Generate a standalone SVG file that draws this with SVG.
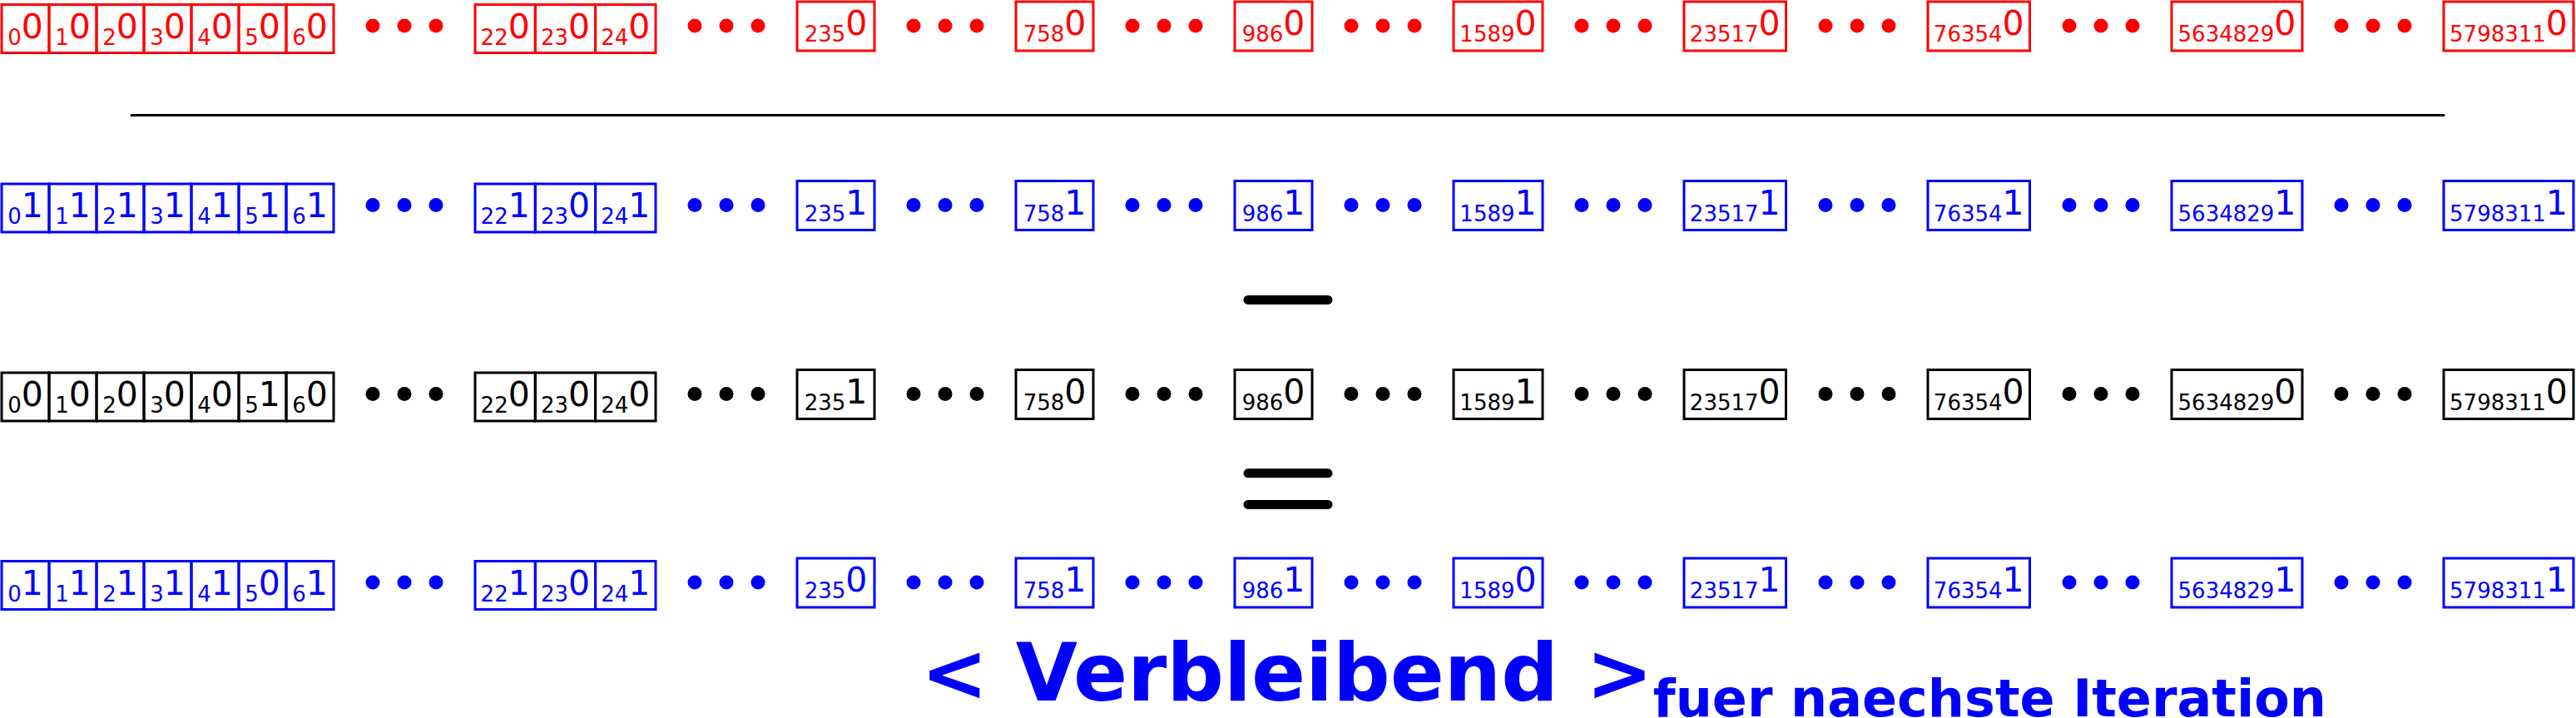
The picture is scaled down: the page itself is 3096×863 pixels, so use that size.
<svg xmlns="http://www.w3.org/2000/svg" xmlns:xlink="http://www.w3.org/1999/xlink" width="3096" height="863" viewBox="0 0 3096 863">
<style>
rect{fill:none;stroke-width:3}
text{font-family:"DejaVu Sans","Liberation Sans",sans-serif;text-anchor:middle}
.s{font-size:26px}
.m{font-size:41px}
.red rect{stroke:#f00}
.red text{fill:#f00}
.blue rect{stroke:#00f}
.blue text{fill:#00f}
.black rect{stroke:#000}
.black text{fill:#000}
.sep{stroke:#000;stroke-linecap:round;fill:none}
.title{font-family:"DejaVu Sans","Liberation Sans",sans-serif;font-weight:bold;fill:#00f;text-anchor:start}
</style>
<defs>
<g id="dots">
<circle cx="448" cy="0" r="8.5"/><circle cx="486" cy="0" r="8.5"/><circle cx="524" cy="0" r="8.5"/>
<circle cx="835" cy="0" r="8.5"/><circle cx="873" cy="0" r="8.5"/><circle cx="911" cy="0" r="8.5"/>
<circle cx="1098" cy="0" r="8.5"/><circle cx="1136" cy="0" r="8.5"/><circle cx="1174" cy="0" r="8.5"/>
<circle cx="1361" cy="0" r="8.5"/><circle cx="1399" cy="0" r="8.5"/><circle cx="1437" cy="0" r="8.5"/>
<circle cx="1624" cy="0" r="8.5"/><circle cx="1662" cy="0" r="8.5"/><circle cx="1700" cy="0" r="8.5"/>
<circle cx="1901" cy="0" r="8.5"/><circle cx="1939" cy="0" r="8.5"/><circle cx="1977" cy="0" r="8.5"/>
<circle cx="2194" cy="0" r="8.5"/><circle cx="2232" cy="0" r="8.5"/><circle cx="2270" cy="0" r="8.5"/>
<circle cx="2487" cy="0" r="8.5"/><circle cx="2525" cy="0" r="8.5"/><circle cx="2563" cy="0" r="8.5"/>
<circle cx="2814" cy="0" r="8.5"/><circle cx="2852" cy="0" r="8.5"/><circle cx="2890" cy="0" r="8.5"/>
</g>
</defs>

<!-- Row 1 (red) -->
<g id="row1" class="red">
<g id="r1-0"><rect x="2" y="5.5" width="57" height="58"/><text x="30.5" y="45.5"><tspan class="s" dy="8">0</tspan><tspan class="m" dy="-8">0</tspan></text></g>
<g id="r1-1"><rect x="59" y="5.5" width="57" height="58"/><text x="87.5" y="45.5"><tspan class="s" dy="8">1</tspan><tspan class="m" dy="-8">0</tspan></text></g>
<g id="r1-2"><rect x="116" y="5.5" width="57" height="58"/><text x="144.5" y="45.5"><tspan class="s" dy="8">2</tspan><tspan class="m" dy="-8">0</tspan></text></g>
<g id="r1-3"><rect x="173" y="5.5" width="57" height="58"/><text x="201.5" y="45.5"><tspan class="s" dy="8">3</tspan><tspan class="m" dy="-8">0</tspan></text></g>
<g id="r1-4"><rect x="230" y="5.5" width="57" height="58"/><text x="258.5" y="45.5"><tspan class="s" dy="8">4</tspan><tspan class="m" dy="-8">0</tspan></text></g>
<g id="r1-5"><rect x="287" y="5.5" width="57" height="58"/><text x="315.5" y="45.5"><tspan class="s" dy="8">5</tspan><tspan class="m" dy="-8">0</tspan></text></g>
<g id="r1-6"><rect x="344" y="5.5" width="57" height="58"/><text x="372.5" y="45.5"><tspan class="s" dy="8">6</tspan><tspan class="m" dy="-8">0</tspan></text></g>
<g id="r1-22"><rect x="571" y="5.5" width="72.3" height="58"/><text x="607.2" y="45.5"><tspan class="s" dy="8">22</tspan><tspan class="m" dy="-8">0</tspan></text></g>
<g id="r1-23"><rect x="643.3" y="5.5" width="72.3" height="58"/><text x="679.5" y="45.5"><tspan class="s" dy="8">23</tspan><tspan class="m" dy="-8">0</tspan></text></g>
<g id="r1-24"><rect x="715.6" y="5.5" width="72.4" height="58"/><text x="751.8" y="45.5"><tspan class="s" dy="8">24</tspan><tspan class="m" dy="-8">0</tspan></text></g>
<g id="r1-235"><rect x="958" y="2" width="93" height="59"/><text x="1004.5" y="42"><tspan class="s" dy="8">235</tspan><tspan class="m" dy="-8">0</tspan></text></g>
<g id="r1-758"><rect x="1221" y="2" width="93" height="59"/><text x="1267.5" y="42"><tspan class="s" dy="8">758</tspan><tspan class="m" dy="-8">0</tspan></text></g>
<g id="r1-986"><rect x="1484" y="2" width="93" height="59"/><text x="1530.5" y="42"><tspan class="s" dy="8">986</tspan><tspan class="m" dy="-8">0</tspan></text></g>
<g id="r1-1589"><rect x="1747" y="2" width="107" height="59"/><text x="1800.5" y="42"><tspan class="s" dy="8">1589</tspan><tspan class="m" dy="-8">0</tspan></text></g>
<g id="r1-23517"><rect x="2024" y="2" width="122.5" height="59"/><text x="2085.25" y="42"><tspan class="s" dy="8">23517</tspan><tspan class="m" dy="-8">0</tspan></text></g>
<g id="r1-76354"><rect x="2317" y="2" width="122.5" height="59"/><text x="2378.25" y="42"><tspan class="s" dy="8">76354</tspan><tspan class="m" dy="-8">0</tspan></text></g>
<g id="r1-5634829"><rect x="2610" y="2" width="157" height="59"/><text x="2688.5" y="42"><tspan class="s" dy="8">5634829</tspan><tspan class="m" dy="-8">0</tspan></text></g>
<g id="r1-5798311"><rect x="2937" y="2" width="156" height="59"/><text x="3015" y="42"><tspan class="s" dy="8">5798311</tspan><tspan class="m" dy="-8">0</tspan></text></g>
<use xlink:href="#dots" href="#dots" y="31" fill="#f00"/>
</g>

<!-- Row 2 (blue) -->
<g id="row2" class="blue">
<g id="r2-0"><rect x="2" y="221" width="57" height="58"/><text x="30.5" y="261"><tspan class="s" dy="8">0</tspan><tspan class="m" dy="-8">1</tspan></text></g>
<g id="r2-1"><rect x="59" y="221" width="57" height="58"/><text x="87.5" y="261"><tspan class="s" dy="8">1</tspan><tspan class="m" dy="-8">1</tspan></text></g>
<g id="r2-2"><rect x="116" y="221" width="57" height="58"/><text x="144.5" y="261"><tspan class="s" dy="8">2</tspan><tspan class="m" dy="-8">1</tspan></text></g>
<g id="r2-3"><rect x="173" y="221" width="57" height="58"/><text x="201.5" y="261"><tspan class="s" dy="8">3</tspan><tspan class="m" dy="-8">1</tspan></text></g>
<g id="r2-4"><rect x="230" y="221" width="57" height="58"/><text x="258.5" y="261"><tspan class="s" dy="8">4</tspan><tspan class="m" dy="-8">1</tspan></text></g>
<g id="r2-5"><rect x="287" y="221" width="57" height="58"/><text x="315.5" y="261"><tspan class="s" dy="8">5</tspan><tspan class="m" dy="-8">1</tspan></text></g>
<g id="r2-6"><rect x="344" y="221" width="57" height="58"/><text x="372.5" y="261"><tspan class="s" dy="8">6</tspan><tspan class="m" dy="-8">1</tspan></text></g>
<g id="r2-22"><rect x="571" y="221" width="72.3" height="58"/><text x="607.2" y="261"><tspan class="s" dy="8">22</tspan><tspan class="m" dy="-8">1</tspan></text></g>
<g id="r2-23"><rect x="643.3" y="221" width="72.3" height="58"/><text x="679.5" y="261"><tspan class="s" dy="8">23</tspan><tspan class="m" dy="-8">0</tspan></text></g>
<g id="r2-24"><rect x="715.6" y="221" width="72.4" height="58"/><text x="751.8" y="261"><tspan class="s" dy="8">24</tspan><tspan class="m" dy="-8">1</tspan></text></g>
<g id="r2-235"><rect x="958" y="217.5" width="93" height="59"/><text x="1004.5" y="257.5"><tspan class="s" dy="8">235</tspan><tspan class="m" dy="-8">1</tspan></text></g>
<g id="r2-758"><rect x="1221" y="217.5" width="93" height="59"/><text x="1267.5" y="257.5"><tspan class="s" dy="8">758</tspan><tspan class="m" dy="-8">1</tspan></text></g>
<g id="r2-986"><rect x="1484" y="217.5" width="93" height="59"/><text x="1530.5" y="257.5"><tspan class="s" dy="8">986</tspan><tspan class="m" dy="-8">1</tspan></text></g>
<g id="r2-1589"><rect x="1747" y="217.5" width="107" height="59"/><text x="1800.5" y="257.5"><tspan class="s" dy="8">1589</tspan><tspan class="m" dy="-8">1</tspan></text></g>
<g id="r2-23517"><rect x="2024" y="217.5" width="122.5" height="59"/><text x="2085.25" y="257.5"><tspan class="s" dy="8">23517</tspan><tspan class="m" dy="-8">1</tspan></text></g>
<g id="r2-76354"><rect x="2317" y="217.5" width="122.5" height="59"/><text x="2378.25" y="257.5"><tspan class="s" dy="8">76354</tspan><tspan class="m" dy="-8">1</tspan></text></g>
<g id="r2-5634829"><rect x="2610" y="217.5" width="157" height="59"/><text x="2688.5" y="257.5"><tspan class="s" dy="8">5634829</tspan><tspan class="m" dy="-8">1</tspan></text></g>
<g id="r2-5798311"><rect x="2937" y="217.5" width="156" height="59"/><text x="3015" y="257.5"><tspan class="s" dy="8">5798311</tspan><tspan class="m" dy="-8">1</tspan></text></g>
<use xlink:href="#dots" href="#dots" y="246.5" fill="#00f"/>
</g>

<!-- Row 3 (black) -->
<g id="row3" class="black">
<g id="r3-0"><rect x="2" y="448" width="57" height="58"/><text x="30.5" y="488"><tspan class="s" dy="8">0</tspan><tspan class="m" dy="-8">0</tspan></text></g>
<g id="r3-1"><rect x="59" y="448" width="57" height="58"/><text x="87.5" y="488"><tspan class="s" dy="8">1</tspan><tspan class="m" dy="-8">0</tspan></text></g>
<g id="r3-2"><rect x="116" y="448" width="57" height="58"/><text x="144.5" y="488"><tspan class="s" dy="8">2</tspan><tspan class="m" dy="-8">0</tspan></text></g>
<g id="r3-3"><rect x="173" y="448" width="57" height="58"/><text x="201.5" y="488"><tspan class="s" dy="8">3</tspan><tspan class="m" dy="-8">0</tspan></text></g>
<g id="r3-4"><rect x="230" y="448" width="57" height="58"/><text x="258.5" y="488"><tspan class="s" dy="8">4</tspan><tspan class="m" dy="-8">0</tspan></text></g>
<g id="r3-5"><rect x="287" y="448" width="57" height="58"/><text x="315.5" y="488"><tspan class="s" dy="8">5</tspan><tspan class="m" dy="-8">1</tspan></text></g>
<g id="r3-6"><rect x="344" y="448" width="57" height="58"/><text x="372.5" y="488"><tspan class="s" dy="8">6</tspan><tspan class="m" dy="-8">0</tspan></text></g>
<g id="r3-22"><rect x="571" y="448" width="72.3" height="58"/><text x="607.2" y="488"><tspan class="s" dy="8">22</tspan><tspan class="m" dy="-8">0</tspan></text></g>
<g id="r3-23"><rect x="643.3" y="448" width="72.3" height="58"/><text x="679.5" y="488"><tspan class="s" dy="8">23</tspan><tspan class="m" dy="-8">0</tspan></text></g>
<g id="r3-24"><rect x="715.6" y="448" width="72.4" height="58"/><text x="751.8" y="488"><tspan class="s" dy="8">24</tspan><tspan class="m" dy="-8">0</tspan></text></g>
<g id="r3-235"><rect x="958" y="444.5" width="93" height="59"/><text x="1004.5" y="484.5"><tspan class="s" dy="8">235</tspan><tspan class="m" dy="-8">1</tspan></text></g>
<g id="r3-758"><rect x="1221" y="444.5" width="93" height="59"/><text x="1267.5" y="484.5"><tspan class="s" dy="8">758</tspan><tspan class="m" dy="-8">0</tspan></text></g>
<g id="r3-986"><rect x="1484" y="444.5" width="93" height="59"/><text x="1530.5" y="484.5"><tspan class="s" dy="8">986</tspan><tspan class="m" dy="-8">0</tspan></text></g>
<g id="r3-1589"><rect x="1747" y="444.5" width="107" height="59"/><text x="1800.5" y="484.5"><tspan class="s" dy="8">1589</tspan><tspan class="m" dy="-8">1</tspan></text></g>
<g id="r3-23517"><rect x="2024" y="444.5" width="122.5" height="59"/><text x="2085.25" y="484.5"><tspan class="s" dy="8">23517</tspan><tspan class="m" dy="-8">0</tspan></text></g>
<g id="r3-76354"><rect x="2317" y="444.5" width="122.5" height="59"/><text x="2378.25" y="484.5"><tspan class="s" dy="8">76354</tspan><tspan class="m" dy="-8">0</tspan></text></g>
<g id="r3-5634829"><rect x="2610" y="444.5" width="157" height="59"/><text x="2688.5" y="484.5"><tspan class="s" dy="8">5634829</tspan><tspan class="m" dy="-8">0</tspan></text></g>
<g id="r3-5798311"><rect x="2937" y="444.5" width="156" height="59"/><text x="3015" y="484.5"><tspan class="s" dy="8">5798311</tspan><tspan class="m" dy="-8">0</tspan></text></g>
<use xlink:href="#dots" href="#dots" y="473.5" fill="#000"/>
</g>

<!-- Row 4 (blue) -->
<g id="row4" class="blue">
<g id="r4-0"><rect x="2" y="674.5" width="57" height="58"/><text x="30.5" y="714.5"><tspan class="s" dy="8">0</tspan><tspan class="m" dy="-8">1</tspan></text></g>
<g id="r4-1"><rect x="59" y="674.5" width="57" height="58"/><text x="87.5" y="714.5"><tspan class="s" dy="8">1</tspan><tspan class="m" dy="-8">1</tspan></text></g>
<g id="r4-2"><rect x="116" y="674.5" width="57" height="58"/><text x="144.5" y="714.5"><tspan class="s" dy="8">2</tspan><tspan class="m" dy="-8">1</tspan></text></g>
<g id="r4-3"><rect x="173" y="674.5" width="57" height="58"/><text x="201.5" y="714.5"><tspan class="s" dy="8">3</tspan><tspan class="m" dy="-8">1</tspan></text></g>
<g id="r4-4"><rect x="230" y="674.5" width="57" height="58"/><text x="258.5" y="714.5"><tspan class="s" dy="8">4</tspan><tspan class="m" dy="-8">1</tspan></text></g>
<g id="r4-5"><rect x="287" y="674.5" width="57" height="58"/><text x="315.5" y="714.5"><tspan class="s" dy="8">5</tspan><tspan class="m" dy="-8">0</tspan></text></g>
<g id="r4-6"><rect x="344" y="674.5" width="57" height="58"/><text x="372.5" y="714.5"><tspan class="s" dy="8">6</tspan><tspan class="m" dy="-8">1</tspan></text></g>
<g id="r4-22"><rect x="571" y="674.5" width="72.3" height="58"/><text x="607.2" y="714.5"><tspan class="s" dy="8">22</tspan><tspan class="m" dy="-8">1</tspan></text></g>
<g id="r4-23"><rect x="643.3" y="674.5" width="72.3" height="58"/><text x="679.5" y="714.5"><tspan class="s" dy="8">23</tspan><tspan class="m" dy="-8">0</tspan></text></g>
<g id="r4-24"><rect x="715.6" y="674.5" width="72.4" height="58"/><text x="751.8" y="714.5"><tspan class="s" dy="8">24</tspan><tspan class="m" dy="-8">1</tspan></text></g>
<g id="r4-235"><rect x="958" y="671" width="93" height="59"/><text x="1004.5" y="711"><tspan class="s" dy="8">235</tspan><tspan class="m" dy="-8">0</tspan></text></g>
<g id="r4-758"><rect x="1221" y="671" width="93" height="59"/><text x="1267.5" y="711"><tspan class="s" dy="8">758</tspan><tspan class="m" dy="-8">1</tspan></text></g>
<g id="r4-986"><rect x="1484" y="671" width="93" height="59"/><text x="1530.5" y="711"><tspan class="s" dy="8">986</tspan><tspan class="m" dy="-8">1</tspan></text></g>
<g id="r4-1589"><rect x="1747" y="671" width="107" height="59"/><text x="1800.5" y="711"><tspan class="s" dy="8">1589</tspan><tspan class="m" dy="-8">0</tspan></text></g>
<g id="r4-23517"><rect x="2024" y="671" width="122.5" height="59"/><text x="2085.25" y="711"><tspan class="s" dy="8">23517</tspan><tspan class="m" dy="-8">1</tspan></text></g>
<g id="r4-76354"><rect x="2317" y="671" width="122.5" height="59"/><text x="2378.25" y="711"><tspan class="s" dy="8">76354</tspan><tspan class="m" dy="-8">1</tspan></text></g>
<g id="r4-5634829"><rect x="2610" y="671" width="157" height="59"/><text x="2688.5" y="711"><tspan class="s" dy="8">5634829</tspan><tspan class="m" dy="-8">1</tspan></text></g>
<g id="r4-5798311"><rect x="2937" y="671" width="156" height="59"/><text x="3015" y="711"><tspan class="s" dy="8">5798311</tspan><tspan class="m" dy="-8">1</tspan></text></g>
<use xlink:href="#dots" href="#dots" y="700" fill="#00f"/>
</g>

<!-- Separators -->
<g id="separators">
<line class="sep" x1="158" y1="138.6" x2="2937" y2="138.6" stroke-width="3" stroke-linecap="butt"/>
<line class="sep" x1="1500" y1="360.4" x2="1596" y2="360.4" stroke-width="11"/>
<line class="sep" x1="1500" y1="568.8" x2="1596" y2="568.8" stroke-width="11"/>
<line class="sep" x1="1500" y1="606.4" x2="1596" y2="606.4" stroke-width="11"/>
</g>

<g id="caption">
<text class="title" x="1107" y="841.7" font-size="96">&lt; Verbleibend &gt;<tspan font-size="62" dy="19">fuer naechste Iteration</tspan></text>
</g>
</svg>
